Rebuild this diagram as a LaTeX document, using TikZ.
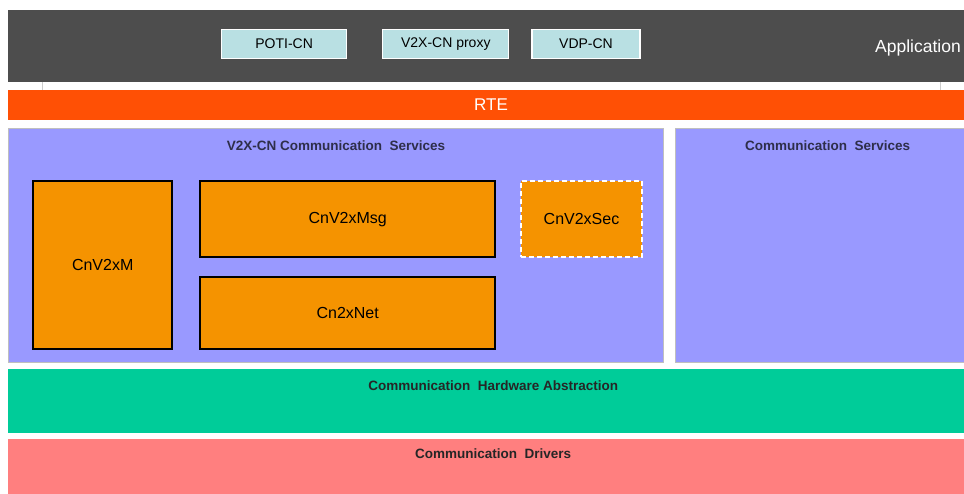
\documentclass[tikz,border=0pt]{standalone}
\usepackage{fontspec}
\setmainfont{Liberation Sans}
\usepackage{tikz}
\usetikzlibrary{positioning}

\definecolor{appgray}{HTML}{4D4D4D}
\definecolor{appbox}{HTML}{B9E0E3}
\definecolor{rtecol}{HTML}{FF5005}
\definecolor{svccol}{HTML}{9999FF}
\definecolor{swccol}{HTML}{F59300}
\definecolor{hwacol}{HTML}{00CC99}
\definecolor{drvcol}{HTML}{FF7F7F}
\definecolor{titlecol}{HTML}{2E2E4A}

\tikzset{
  bar/.style={rectangle, anchor=north west, inner sep=0pt, draw=none},
  appmod/.style={rectangle, fill=appbox, draw=white, line width=1.2pt, minimum height=29pt,
    inner sep=0pt, font=\fontsize{14}{16}\selectfont},
  svcbox/.style={bar, fill=svccol, draw=black!25, line width=1.2pt},
  swc/.style={rectangle, anchor=north west, fill=swccol, draw=black, line width=2.4pt,
    inner sep=0pt, font=\fontsize{16}{18}\selectfont},
  layertitle/.style={font=\fontsize{13.5}{16}\bfseries\selectfont, text=titlecol, inner sep=0pt}
}

\begin{document}
\begin{tikzpicture}[x=1pt,y=-1pt]
		\clip (0,0) rectangle (964,493);
		\fill[white] (0,0) rectangle (964,493);
		
		% application layer
		\node[bar, fill=appgray, minimum width=970pt, minimum height=72pt] (app) at (8,10) {};
		\node[appmod, minimum width=125pt, anchor=north west] (poti) at (221,29) {POTI-CN};
		\node[appmod, minimum width=126pt, right=35pt of poti] (proxy) {V2X-CN proxy};
		\node[appmod, minimum width=108pt, right=22pt of proxy] (vdp) {VDP-CN};
		\node[anchor=east, text=white, inner sep=0pt, font=\fontsize{17.5}{20}\selectfont] (appt) at (961,48) {Application};
		\draw[black!20] (42,82) -- (42,90);
		\draw[black!20] (940,82) -- (940,90);
		
		% RTE
		\node[bar, fill=rtecol, minimum width=967pt, minimum height=30pt] (rte) at (8,90) {};
		\node[text=white, inner sep=0pt, font=\fontsize{17}{20}\selectfont] (rtet) at (491,105) {RTE};
		
		% communication services
		\node[svcbox, minimum width=655pt, minimum height=234pt] (v2xcs) at (8,128) {};
		\node[layertitle, below=13pt of v2xcs.north] (v2xcst) {V2X-CN Communication\ \ Services};
		\node[svcbox, minimum width=304pt, minimum height=234pt] (comcs) at (675,128) {};
		\node[layertitle, below=13pt of comcs.north] (comcst) {Communication\ \ Services};
		
		\node[swc, minimum width=139pt, minimum height=168pt] (cnv2xm) at (32,180) {CnV2xM};
		\node[swc, minimum width=295pt, minimum height=76pt] (cnv2xmsg) at (199,180) {CnV2xMsg};
		\node[swc, minimum width=295pt, minimum height=72pt] (cn2xnet) at (199,276) {Cn2xNet};
		\node[swc, minimum width=121pt, minimum height=76pt, draw=white, line width=2pt, dashed,
		  dash pattern=on 5pt off 3pt] (cnv2xsec) at (520,180) {CnV2xSec};
		
		% hardware abstraction and drivers
		\node[bar, fill=hwacol, minimum width=970pt, minimum height=64pt] (hwa) at (8,369) {};
		\node[layertitle, text=black!85, below=12pt of hwa.north] (hwat) {Communication\ \ Hardware Abstraction};
		\node[bar, fill=drvcol, minimum width=970pt, minimum height=60pt] (drv) at (8,439) {};
		\node[layertitle, text=black!85, below=10pt of drv.north] (drvt) {Communication\ \ Drivers};
	\end{tikzpicture}
\end{document}
